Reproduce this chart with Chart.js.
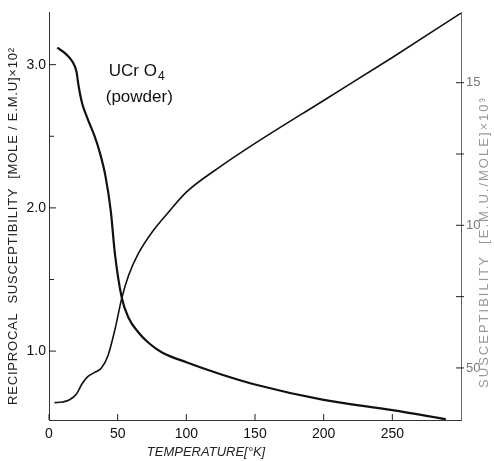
<!DOCTYPE html>
<html lang="en">
<head>
  <meta charset="UTF-8">
  <title>UCrO4 susceptibility</title>
  <script src="https://cdn.jsdelivr.net/npm/chart.js"></script>
  <style>
    html, body { margin: 0; padding: 0; background: #fff; }
    #wrap { width: 494px; height: 461px; }
  </style>
</head>
<body>
  <div id="wrap"><canvas id="chart"></canvas></div>

  <script>
    // reciprocal susceptibility (left axis), x10^2 mole/emu
    const recipTemp = [4, 10, 15, 20, 24, 28, 33, 38, 43, 48, 53, 58, 65, 75, 87, 100, 125, 150, 200, 250, 300];
    const recipValues = [0.64, 0.645, 0.66, 0.70, 0.77, 0.82, 0.85, 0.88, 0.97, 1.15, 1.37, 1.53, 1.68, 1.83, 1.97, 2.11, 2.29, 2.45, 2.75, 3.05, 3.36];

    // susceptibility (right axis), x10^3 emu/mole
    const suscTemp = [6, 12, 17, 20, 21.5, 24, 28, 33, 37, 41, 45, 48, 53, 58, 65, 72, 82, 100, 125, 150, 200, 250, 289];
    const suscValues = [16.23, 16.02, 15.74, 15.39, 14.9, 14.3, 13.75, 13.15, 12.55, 11.75, 10.5, 9.0, 7.46, 6.75, 6.25, 5.9, 5.55, 5.2, 4.78, 4.42, 3.88, 3.52, 3.2];

    const xTicks = [0, 50, 100, 150, 200, 250];
    const leftTicks = [1, 2, 3];
    const rightTicks = { 5: '50', 10: '10', 15: '15' };

    const toPoints = (xs, ys) => xs.map((x, i) => ({ x: x, y: ys[i] }));

    // inward tick marks, axis titles and the sample label
    const decorations = {
      id: 'decorations',
      afterDraw(chart) {
        const ctx = chart.ctx;
        const a = chart.chartArea;
        const x = chart.scales.x, yl = chart.scales.yl, yr = chart.scales.yr;
        ctx.save();
        ctx.strokeStyle = '#222';
        ctx.lineWidth = 1;
        ctx.beginPath();
        x.ticks.forEach(t => {
          const px = x.getPixelForValue(t.value);
          ctx.moveTo(px, a.bottom); ctx.lineTo(px, a.bottom - 6);
        });
        yl.ticks.forEach(t => {
          const py = yl.getPixelForValue(t.value);
          const len = Number.isInteger(t.value) ? 7 : 5;
          ctx.moveTo(a.left, py); ctx.lineTo(a.left + len, py);
        });
        yr.ticks.forEach(t => {
          const py = yr.getPixelForValue(t.value);
          ctx.moveTo(a.right - 5, py); ctx.lineTo(a.right + 3, py);
        });
        ctx.stroke();

        ctx.fillStyle = '#222';
        ctx.textAlign = 'center';
        ctx.textBaseline = 'middle';
        ctx.font = 'italic 13px "Liberation Sans", sans-serif';
        ctx.fillText('TEMPERATURE[°K]', 206, 452);

        ctx.font = '13px "Liberation Sans", sans-serif';
        ctx.letterSpacing = '0.8px';
        ctx.save();
        ctx.translate(13, 226);
        ctx.rotate(-Math.PI / 2);
        ctx.fillText('RECIPROCAL  SUSCEPTIBILITY  [MOLE / E.M.U]\u00d710\u00b2', 0, 0);
        ctx.restore();

        ctx.fillStyle = '#999';
        ctx.font = '13px "Liberation Sans", sans-serif';
        ctx.letterSpacing = '2px';
        ctx.save();
        ctx.translate(484, 242);
        ctx.rotate(-Math.PI / 2);
        ctx.fillText('SUSCEPTIBILITY  [E.M.U./MOLE]\u00d710\u00b3', 0, 0);
        ctx.restore();
        ctx.letterSpacing = '0px';

        ctx.fillStyle = '#111';
        ctx.textAlign = 'left';
        const lx = x.getPixelForValue(43.5);
        const ly = yl.getPixelForValue(2.95);
        ctx.font = '17px "Liberation Sans", sans-serif';
        ctx.fillText('UCr O', lx, ly);
        const w = ctx.measureText('UCr O').width;
        ctx.font = '12px "Liberation Sans", sans-serif';
        ctx.fillText('4', lx + w + 1, ly + 5);
        ctx.font = '17px "Liberation Sans", sans-serif';
        ctx.fillText('(powder)', lx - 3, ly + 26);
        ctx.restore();
      }
    };

    new Chart(document.getElementById('chart'), {
      type: 'line',
      data: {
        datasets: [{
          label: 'reciprocal',
          data: toPoints(recipTemp, recipValues),
          yAxisID: 'yl',
          borderColor: '#111',
          borderWidth: 1.6,
          pointRadius: 0,
          cubicInterpolationMode: 'monotone'
        }, {
          label: 'susceptibility',
          data: toPoints(suscTemp, suscValues),
          yAxisID: 'yr',
          borderColor: '#111',
          borderWidth: 2.2,
          pointRadius: 0,
          cubicInterpolationMode: 'monotone'
        }]
      },
      options: {
        responsive: true,
        maintainAspectRatio: false,
        animation: false,
        layout: { padding: { top: 12, left: 0, right: 0, bottom: 0 } },
        plugins: { legend: { display: false }, tooltip: { enabled: false } },
        scales: {
          x: {
            type: 'linear',
            min: 0, max: 300,
            afterFit: s => { s.height = 41; },
            afterBuildTicks: s => { s.ticks = xTicks.map(v => ({ value: v })); },
            grid: { display: false, drawTicks: false },
            border: { color: '#333', width: 1 },
            ticks: {
              padding: 6,
              color: '#111',
              font: { family: '"Liberation Sans", sans-serif', size: 14 },
              autoSkip: false,
              maxRotation: 0
            }
          },
          yl: {
            type: 'linear',
            position: 'left',
            min: 0.519, max: 3.362,
            afterFit: s => { s.width = 49; },
            ticks: {
              stepSize: 0.5,
              includeBounds: false,
              padding: 3,
              color: '#111',
              font: { family: '"Liberation Sans", sans-serif', size: 14 },
              callback: v => leftTicks.includes(v) ? v.toFixed(1) : ''
            },
            grid: { display: false, drawTicks: false },
            border: { color: '#333', width: 1 }
          },
          yr: {
            type: 'linear',
            position: 'right',
            min: 3.175, max: 17.45,
            afterFit: s => { s.width = 33; },
            ticks: {
              stepSize: 2.5,
              includeBounds: false,
              padding: 5,
              color: '#777',
              font: { family: '"Liberation Sans", sans-serif', size: 13 },
              callback: v => rightTicks[v] || ''
            },
            grid: { display: false, drawTicks: false },
            border: { color: '#666', width: 1, dash: [6, 2] }
          }
        }
      },
      plugins: [decorations]
    });
  </script>
</body>
</html>
